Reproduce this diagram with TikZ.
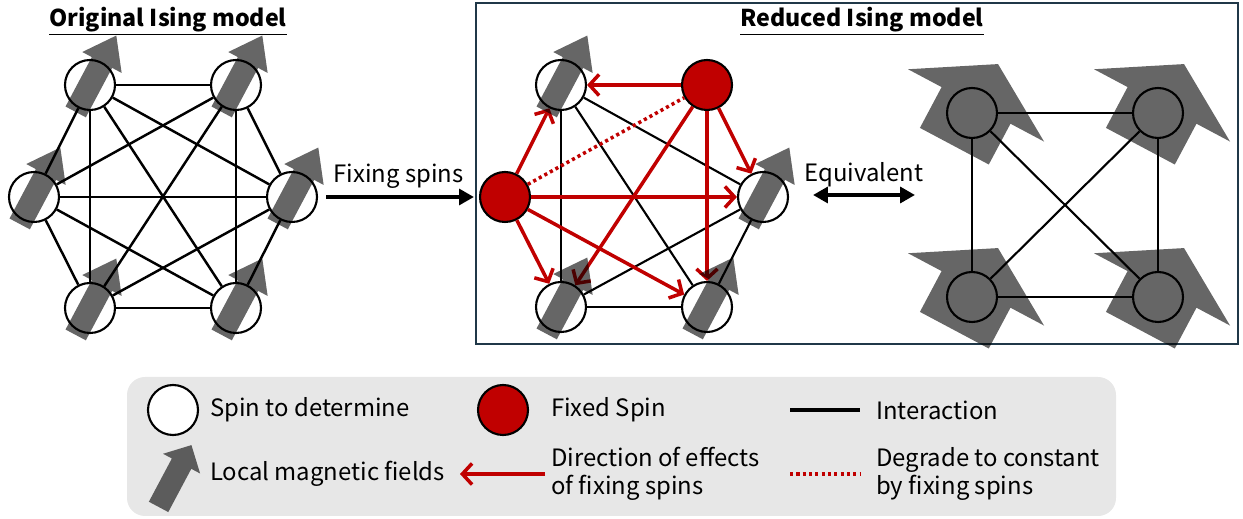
\documentclass[tikz,border=0pt]{standalone}
\usepackage{fontspec}
\setmainfont{Noto Sans CJK JP}
\usetikzlibrary{arrows.meta,positioning}

\definecolor{fixred}{RGB}{192,0,0}
\definecolor{panelline}{RGB}{32,56,72}
\definecolor{legendbg}{RGB}{231,231,231}

\tikzset{
  spin/.style={circle,draw,line width=1.2pt,minimum size=1cm,inner sep=0pt},
  fixedspin/.style={spin,fill=fixred},
  coupling/.style={line width=1.4pt},
  effect/.style={fixred,line width=2pt,-{Straight Barb[length=5.5pt,width=12pt]}},
  constant/.style={fixred,line width=2pt,dash pattern=on 1.8pt off 1.8pt},
  field/.style={fill=black,fill opacity=0.6},
  push/.style={line width=2.8pt,-{Triangle[length=8.5pt,width=9pt]}},
  txt/.style={font=\fontsize{13.6}{16}\selectfont},
  heading/.style={font=\fontsize{13.2}{16}\selectfont\bfseries},
}

% block arrow for a local field: at, tail, head base, tip, shaft half width, head half width
\newcommand{\fieldarrow}[6]{%
  \fill[field,shift={(#1)},rotate=62] (#2,-#5) -- (#3,-#5) -- (#3,-#6) -- (#4,0)
    -- (#3,#6) -- (#3,#5) -- (#2,#5) -- cycle;}

\begin{document}
\begin{tikzpicture}[x=0.02cm,y=-0.02cm]
\useasboundingbox (0,0) rectangle (1243,519);

% legend background and frame
\fill[legendbg,rounded corners=0.36cm] (127,377) rectangle (1116,516);
\draw[panelline,line width=1.3pt] (476,3) rectangle (1238,344);

\node[heading] (t1) at (168,21) {\underline{Original Ising model}};
\node[heading] (t2) at (862,21) {\underline{Reduced Ising model}};

% original model
\node[spin] (o1) at (90,85) {};
\node[spin] (o2) at (236,85) {};
\node[spin] (o3) at (292,197) {};
\node[spin] (o4) at (236,308) {};
\node[spin] (o5) at (90,308) {};
\node[spin] (o6) at (34,197) {};
\foreach \a/\b in {1/2,1/3,1/4,1/5,1/6,2/3,2/4,2/5,2/6,3/4,3/5,3/6,4/5,4/6,5/6}
  \draw[coupling] (o\a) -- (o\b);

% reduced model
\node[spin] (r1) at (561,85) {};
\node[fixedspin] (r2) at (707,85) {};
\node[spin] (r3) at (763,197) {};
\node[spin] (r4) at (707,307) {};
\node[spin] (r5) at (561,307) {};
\node[fixedspin] (r6) at (505,197) {};
\foreach \a/\b in {1/3,1/4,1/5,5/4,5/3,3/4}
  \draw[coupling,line width=1.2pt] (r\a) -- (r\b);
\draw[constant] (r6) -- (r2);
\foreach \f in {r6,r2}
  \foreach \t in {r1,r3,r4,r5}
    \draw[effect] (\f) -- (\t);

\draw[push,shorten <=0.16cm,shorten >=0.1cm] (o3) -- node[above,txt] {Fixing spins} (r6);

\coordinate (eq1) at (813,195);
\coordinate (eq2) at (915,195);
\draw[push,{Triangle[length=8.5pt,width=9pt]}-{Triangle[length=8.5pt,width=9pt]}] (eq1) -- node[above,txt] {Equivalent} (eq2);

% equivalent model
\node[spin] (q1) at (972,113) {};
\node[spin] (q2) at (1158,113) {};
\node[spin] (q3) at (1158,297) {};
\node[spin] (q4) at (972,297) {};
\foreach \a/\b in {1/2,2/3,3/4,4/1,1/3,2/4}
  \draw[coupling,line width=1.2pt] (q\a) -- (q\b);

% local fields
\foreach \s in {o1,o2,o3,o4,o5,o6,r1,r3,r4,r5}
  {\fieldarrow{\s}{-30.5}{25.5}{56}{11.5}{22.3}}
\foreach \s in {q1,q2,q3,q4}
  {\fieldarrow{\s}{-37.6}{8.6}{55.4}{39}{77}}

% legend
\node[spin,fill=white] (lspin) at (173,410) {};
\node[txt,anchor=west] (lspintext) at (204,410) {Spin to determine};
\node[fixedspin] (lfix) at (503,410) {};
\node[txt,anchor=west] (lfixtext) at (545,410) {Fixed Spin};
\coordinate (la) at (790,410);
\coordinate (lb) at (860,410);
\draw[coupling,line width=2.2pt] (la) -- (lb);
\node[txt,anchor=west] (lintertext) at (870,410) {Interaction};

\coordinate (lf) at (175,476);
\fieldarrow{lf}{-35}{14}{35}{11}{21}
\node[txt,anchor=west] (lfieldtext) at (204,474) {Local magnetic fields};
\coordinate (lc) at (545,474);
\coordinate (ld) at (460,474);
\draw[effect] (lc) -- (ld);
\node[txt,anchor=west,align=left] (leffecttext) at (545,474) {Direction of effects\\of fixing spins};
\coordinate (le) at (790,474);
\coordinate (lg) at (860,474);
\draw[constant] (le) -- (lg);
\node[txt,anchor=west,align=left] (lconsttext) at (870,474) {Degrade to constant\\by fixing spins};
\end{tikzpicture}
\end{document}
